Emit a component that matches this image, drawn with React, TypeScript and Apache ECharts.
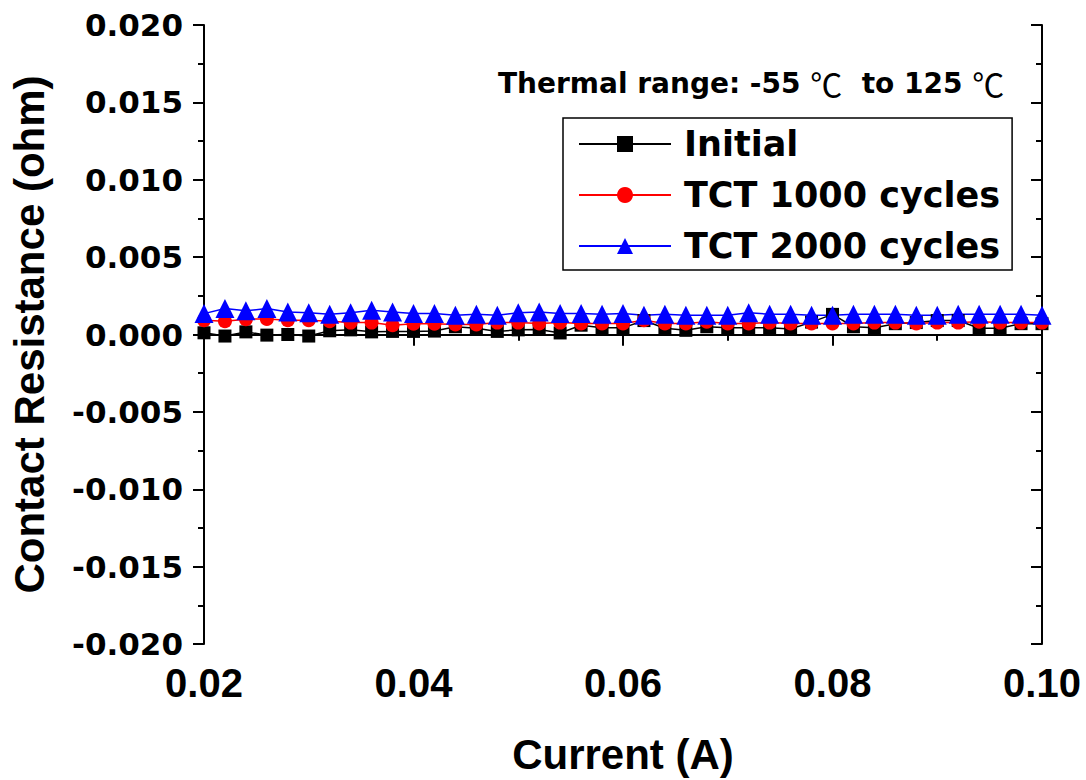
import React, { useEffect, useRef } from "react";
import * as echarts from "echarts";

const currents = [
  0.020, 0.022, 0.024, 0.026, 0.028, 0.030, 0.032, 0.034, 0.036, 0.038,
  0.040, 0.042, 0.044, 0.046, 0.048, 0.050, 0.052, 0.054, 0.056, 0.058,
  0.060, 0.062, 0.064, 0.066, 0.068, 0.070, 0.072, 0.074, 0.076, 0.078,
  0.080, 0.082, 0.084, 0.086, 0.088, 0.090, 0.092, 0.094, 0.096, 0.098,
  0.100,
];

const initialValues = [
  0.00011, -0.0001, 0.00017, -0.00004, 0.0, -0.0001, 0.00024, 0.0003, 0.00017, 0.0002,
  0.0002, 0.00022, 0.0005, 0.0004, 0.0002, 0.0003, 0.00033, 0.0001, 0.0006, 0.00043,
  0.00043, 0.0009, 0.0004, 0.00027, 0.0005, 0.00043, 0.00043, 0.00043, 0.00035, 0.0008,
  0.0013, 0.0005, 0.00043, 0.0007, 0.00077, 0.0009, 0.0009, 0.0004, 0.0004, 0.0007,
  0.0007,
];

const tct1000Values = [
  0.00092, 0.00086, 0.00099, 0.001, 0.00092, 0.00092, 0.00086, 0.00077, 0.00077, 0.0006,
  0.0007, 0.0007, 0.00065, 0.00065, 0.00077, 0.00077, 0.00071, 0.00077, 0.00071, 0.00071,
  0.00071, 0.00092, 0.00071, 0.00071, 0.00082, 0.00071, 0.00071, 0.00077, 0.00071, 0.00071,
  0.00071, 0.00071, 0.00077, 0.00077, 0.00071, 0.00077, 0.00077, 0.00082, 0.00077, 0.00077,
  0.00077,
];

const tct2000Values = [
  0.00135, 0.00168, 0.00153, 0.00168, 0.00146, 0.0014, 0.00131, 0.0014, 0.00157, 0.00146,
  0.00135, 0.00135, 0.00125, 0.00131, 0.00125, 0.0014, 0.00146, 0.00135, 0.00135, 0.00131,
  0.00135, 0.00125, 0.00131, 0.00125, 0.00125, 0.00125, 0.0014, 0.00131, 0.00131, 0.00125,
  0.00125, 0.00131, 0.00131, 0.00131, 0.00125, 0.00125, 0.00131, 0.00131, 0.00131, 0.00131,
  0.00125,
];

const seriesNames = ["Initial", "TCT 1000 cycles", "TCT 2000 cycles"];
const annotationParts = ["Thermal range: -55 ", "\u2103", "  to 125 ", "\u2103"];
const xTitle = "Current (A)";
const yTitle = "Contact Resistance (ohm)";

const pair = (vals: number[]) => currents.map((c, i) => [c, vals[i]]);

export default function App() {
  const ref = useRef<HTMLDivElement>(null);
  useEffect(() => {
    document.body.style.margin = "0";
    if (!ref.current) return;
    const chart = echarts.init(ref.current, null, { renderer: "svg" });
    const arial = "'Liberation Sans', Arial, sans-serif";
    const dejavu = "'DejaVu Sans', sans-serif";
    const cjk = "'Noto Sans CJK SC', sans-serif";
    const axisLine = { show: true, lineStyle: { color: "#000", width: 2 } };
    const annotationText =
      annotationParts[0] + "{c|" + annotationParts[1] + "}" + annotationParts[2] + "{c|" + annotationParts[3] + "}";
    chart.setOption({
      animation: false,
      backgroundColor: "#fff",
      title: {
        text: annotationText,
        left: 493,
        top: 62,
        textStyle: {
          fontFamily: dejavu,
          fontWeight: "bold",
          fontSize: 28,
          color: "#000",
          rich: {
            c: { fontFamily: cjk, fontWeight: "normal", fontSize: 32, color: "#000" },
          },
        },
      },
      legend: {
        orient: "vertical",
        left: 563,
        top: 118,
        width: 450,
        padding: [6, 12, 4, 15],
        borderColor: "#000",
        borderWidth: 1.5,
        itemWidth: 92,
        itemHeight: 20,
        itemGap: 11,
        data: seriesNames,
        textStyle: {
          fontFamily: dejavu,
          fontWeight: "bold",
          fontSize: 35,
          color: "#000",
          lineHeight: 40,
          padding: [0, 0, 0, 8],
        },
      },
      grid: { left: 204, top: 25, width: 838, height: 622, containLabel: false },
      xAxis: [
        {
          type: "value",
          min: 0.02,
          max: 0.1,
          interval: 0.02,
          axisLine,
          axisTick: { show: true, inside: false, length: 11, lineStyle: { width: 2, color: "#000" } },
          minorTick: { show: true, splitNumber: 2, length: 6, lineStyle: { width: 2, color: "#000" } },
          splitLine: { show: false },
          axisLabel: {
            margin: 19,
            fontFamily: arial,
            fontWeight: "bold",
            fontSize: 40,
            color: "#000",
            formatter: (v: number) => v.toFixed(2),
          },
          name: xTitle,
          nameLocation: "middle",
          nameGap: 89,
          nameTextStyle: { fontFamily: arial, fontWeight: "bold", fontSize: 42, color: "#000" },
        },
        {
          type: "value",
          position: "top",
          min: 0.02,
          max: 0.1,
          interval: 0.02,
          axisLine,
          axisTick: { show: true, inside: true, length: 11, lineStyle: { width: 2, color: "#000" } },
          minorTick: { show: true, splitNumber: 2, length: 6, lineStyle: { width: 2, color: "#000" } },
          splitLine: { show: false },
          axisLabel: { show: false },
        },
      ],
      yAxis: [
        {
          type: "value",
          min: -0.02,
          max: 0.02,
          interval: 0.005,
          axisLine,
          axisTick: { show: true, inside: false, length: 11, lineStyle: { width: 2, color: "#000" } },
          minorTick: { show: true, splitNumber: 2, length: 6, lineStyle: { width: 2, color: "#000" } },
          splitLine: { show: false },
          axisLabel: {
            margin: 21,
            fontFamily: dejavu,
            fontWeight: "bold",
            fontSize: 31,
            color: "#000",
            formatter: (v: number) => v.toFixed(3),
          },
          name: yTitle,
          nameLocation: "middle",
          nameGap: 154,
          nameTextStyle: { fontFamily: arial, fontWeight: "bold", fontSize: 42, color: "#000" },
        },
        {
          type: "value",
          position: "right",
          min: -0.02,
          max: 0.02,
          interval: 0.005,
          axisLine,
          axisTick: { show: true, inside: true, length: 11, lineStyle: { width: 2, color: "#000" } },
          minorTick: { show: true, splitNumber: 2, length: 6, lineStyle: { width: 2, color: "#000" } },
          splitLine: { show: false },
          axisLabel: { show: false },
        },
      ],
      series: [
        {
          name: seriesNames[0],
          type: "line",
          data: pair(initialValues),
          symbol: "rect",
          symbolSize: 13,
          showAllSymbol: true,
          lineStyle: { color: "#000", width: 1.5 },
          itemStyle: { color: "#000" },
        },
        {
          name: seriesNames[1],
          type: "line",
          data: pair(tct1000Values),
          symbol: "circle",
          symbolSize: 14,
          showAllSymbol: true,
          lineStyle: { color: "#ff0000", width: 1.5 },
          itemStyle: { color: "#ff0000" },
        },
        {
          name: seriesNames[2],
          type: "line",
          data: pair(tct2000Values),
          symbol: "triangle",
          symbolSize: 19,
          showAllSymbol: true,
          lineStyle: { color: "#0000ff", width: 1.5 },
          itemStyle: { color: "#0000ff" },
        },
      ],
    });
    return () => chart.dispose();
  }, []);
  return <div ref={ref} style={{ width: 1086, height: 780 }} />;
}
